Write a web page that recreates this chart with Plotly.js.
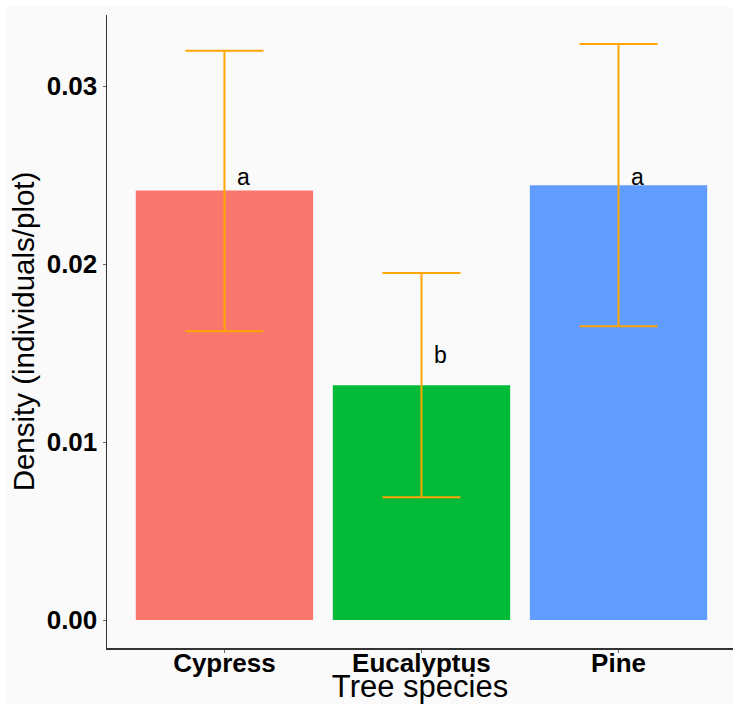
<!DOCTYPE html>
<html>
<head>
<meta charset="utf-8">
<script src="https://cdn.plot.ly/plotly-3.0.1.min.js"></script>
<style>
html, body { margin: 0; padding: 0; background: #ffffff; width: 733px; height: 705px; overflow: hidden; }
#chart { position: absolute; left: 7px; top: 7px; width: 726px; height: 697px; }
</style>
</head>
<body>
<div id="chart"></div>
<script>
// Data
const species = ["Cypress", "Eucalyptus", "Pine"];
const density = [0.02413, 0.01319, 0.02443];
const upperCI = [0.03198, 0.01949, 0.03236];
const lowerCI = [0.01622, 0.00690, 0.01650];
const groupLetters = ["a", "b", "a"];
const letterY = [0.0249, 0.0149, 0.0249];
const barColors = ["#F8766D", "#00BA38", "#619CFF"];
const yTickVals = [0, 0.01, 0.02, 0.03];
const yTickText = ["0.00", "0.01", "0.02", "0.03"];

const FONT = "Liberation Sans, Arial, Helvetica, sans-serif";
const BG = "#FAFAFA";

const trace = {
  type: "bar",
  x: species,
  y: density,
  width: 0.9,
  marker: { color: barColors, line: { width: 0 } },
  error_y: {
    type: "data",
    symmetric: false,
    array: upperCI.map((u, i) => u - density[i]),
    arrayminus: lowerCI.map((l, i) => density[i] - l),
    color: "#FFA500",
    thickness: 2,
    width: 39
  },
  hoverinfo: "skip"
};

const annotations = species.map((s, i) => ({
  x: s,
  y: letterY[i],
  xref: "x",
  yref: "y",
  text: groupLetters[i],
  showarrow: false,
  xshift: 19,
  xanchor: "center",
  yanchor: "middle",
  font: { family: FONT, size: 23, color: "#000000" }
}));

const layout = {
  width: 726,
  height: 697,
  margin: { l: 100, r: 0, t: 8, b: 56, pad: 0 },
  paper_bgcolor: BG,
  plot_bgcolor: BG,
  showlegend: false,
  bargap: 0.1,
  xaxis: {
    type: "category",
    range: [-0.596, 2.581],
    showgrid: false,
    zeroline: false,
    showline: true,
    linecolor: "#333333",
    linewidth: 1.5,
    ticks: "outside",
    ticklen: 3,
    tickwidth: 1,
    tickcolor: "#666666",
    ticklabelstandoff: -12,
    tickfont: { family: FONT, size: 26, color: "#000000", weight: "bold" },
    title: { text: "Tree species", font: { family: FONT, size: 31, color: "#000000" }, standoff: 6 },
    automargin: false,
    fixedrange: true
  },
  yaxis: {
    range: [-0.001573, 0.033989],
    tickvals: yTickVals,
    ticktext: yTickText,
    showgrid: false,
    zeroline: false,
    showline: true,
    linecolor: "#333333",
    linewidth: 1.5,
    ticks: "outside",
    ticklen: 3,
    tickwidth: 1,
    tickcolor: "#666666",
    tickfont: { family: FONT, size: 26, color: "#000000", weight: "bold" },
    title: { text: "Density (individuals/plot)", font: { family: FONT, size: 29.5, color: "#000000" }, standoff: 9 },
    automargin: false,
    fixedrange: true
  },
  annotations: annotations
};

Plotly.newPlot("chart", [trace], layout, { displayModeBar: false, staticPlot: true });
</script>
</body>
</html>
